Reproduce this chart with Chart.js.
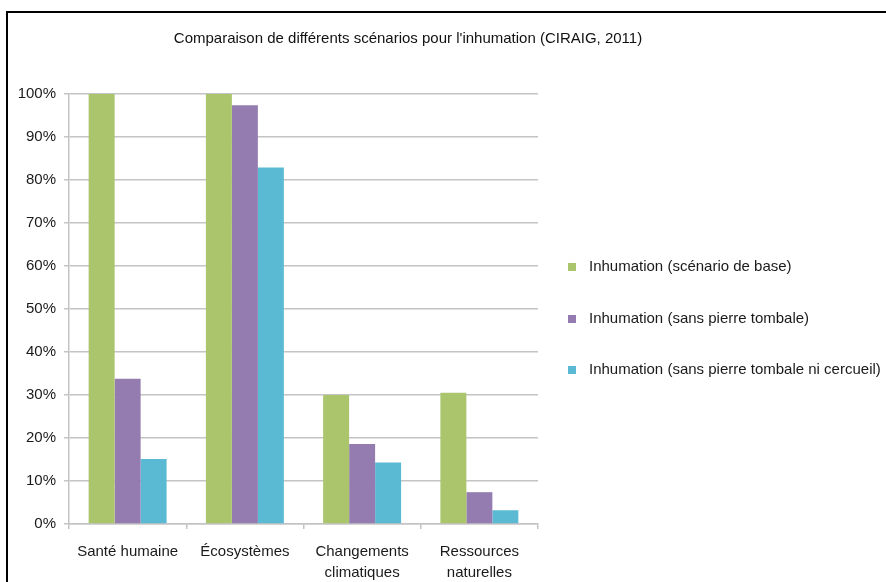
<!DOCTYPE html>
<html lang="fr">
<head>
<meta charset="utf-8">
<title>Inhumation</title>
<script src="https://cdn.jsdelivr.net/npm/chart.js@4.4.1/dist/chart.umd.min.js"></script>
<style>
  body { margin: 0; background: #fff; }
  #wrap { position: relative; width: 886px; height: 582px; overflow: hidden; }
  #frame { position: absolute; left: 6px; top: 11px; right: 0; bottom: 0;
           border-left: 2px solid #000; border-top: 2px solid #000; }
  #chart { position: absolute; left: 0; top: 0; }
</style>
</head>
<body>
<div id="wrap">
  <div id="frame"></div>
  <canvas id="chart" width="886" height="582"></canvas>
</div>
<script>
const categories = ['Santé humaine', 'Écosystèmes', ['Changements', 'climatiques'], ['Ressources', 'naturelles']];
const seriesNames = [
  'Inhumation (scénario de base)',
  'Inhumation (sans pierre tombale)',
  'Inhumation (sans pierre tombale ni cercueil)'
];
const baseScenario = [100, 100, 30, 30.5];
const noTombstone = [33.8, 97.4, 18.6, 7.4];
const noTombstoneNoCoffin = [15.1, 82.9, 14.3, 3.2];
const colors = ['#abc56d', '#957cb0', '#5bbad3'];

const FONT = '"Liberation Sans", Arial, sans-serif';
const GRID = '#c4c4c4';

// small square swatch for the legend, sitting at the left of a wider image
function swatch(color) {
  const c = document.createElement('canvas');
  c.width = 20;
  c.height = 8;
  const g = c.getContext('2d');
  g.fillStyle = color;
  g.fillRect(0, 0, 8, 8);
  return c;
}
const swatches = colors.map(swatch);

new Chart(document.getElementById('chart'), {
  type: 'bar',
  data: {
    labels: categories,
    datasets: [baseScenario, noTombstone, noTombstoneNoCoffin].map((values, i) => ({
      label: seriesNames[i],
      data: values,
      backgroundColor: colors[i],
      borderWidth: 0,
      barPercentage: 1,
      categoryPercentage: 0.665
    }))
  },
  options: {
    responsive: false,
    animation: false,
    // negative sides let the title centre sit left of the canvas middle
    layout: { padding: { top: 15, bottom: -40, left: -67, right: 3 } },
    plugins: {
      title: {
        display: true,
        text: "Comparaison de différents scénarios pour l'inhumation (CIRAIG, 2011)",
        color: '#111',
        font: { family: FONT, size: 15, weight: 'normal' },
        padding: { top: 15, bottom: 46 }
      },
      tooltip: { enabled: false },
      legend: {
        position: 'right',
        maxWidth: 345,
        labels: {
          usePointStyle: true,
          pointStyleWidth: 7,
          boxHeight: 8,
          padding: 36.5,
          color: '#1a1a1a',
          font: { family: FONT, size: 15 },
          generateLabels: chart =>
            Chart.defaults.plugins.legend.labels.generateLabels(chart)
              .map((item, i) => ({ ...item, pointStyle: swatches[i] }))
        }
      }
    },
    scales: {
      x: {
        afterFit: scale => { scale.height = 98; },
        grid: { drawOnChartArea: false, drawTicks: true, tickLength: 5, color: GRID, lineWidth: 1.5 },
        border: { color: GRID, width: 1.5 },
        ticks: {
          padding: 12,
          color: '#1a1a1a',
          maxRotation: 0,
          autoSkip: false,
          font: { family: FONT, size: 15, lineHeight: 1.4 }
        }
      },
      y: {
        min: 0,
        max: 100,
        afterFit: scale => { scale.width = 136; },
        grid: { color: GRID, lineWidth: 1.5, tickLength: 5 },
        border: { color: GRID, width: 1.5 },
        ticks: {
          stepSize: 10,
          padding: 8,
          color: '#1a1a1a',
          font: { family: FONT, size: 15 },
          callback: v => v + '%'
        }
      }
    }
  }
});
</script>
</body>
</html>
